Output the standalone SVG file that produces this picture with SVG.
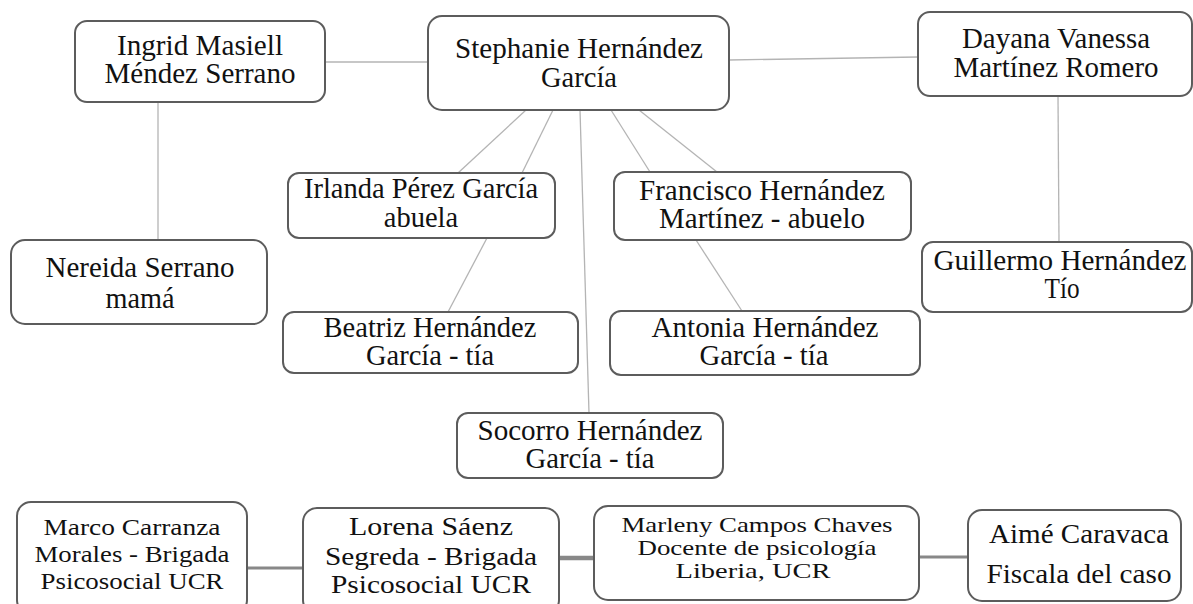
<svg xmlns="http://www.w3.org/2000/svg" width="1193" height="604" viewBox="0 0 1193 604">
<style>
.box{fill:#fff;stroke:#5c5c5c;stroke-width:2}
.t{font-family:"Liberation Serif","Times New Roman",serif;font-size:28.5px;fill:#111;text-anchor:middle}
.s{font-size:23.5px}
.m{font-size:25px}
.n{font-size:22px}
.l{stroke:#b4b4b4;stroke-width:1.3;fill:none}
.b{stroke:#888;stroke-width:3;fill:none}
</style>
<rect width="1193" height="604" fill="#fff"/>
<g id="connectors">
<line class="l" x1="325" y1="62" x2="428" y2="62"/>
<line class="l" x1="729" y1="60" x2="918" y2="57"/>
<line class="l" x1="158" y1="102" x2="158" y2="240"/>
<line class="l" x1="1058" y1="96" x2="1059" y2="242"/>
<line class="l" x1="526" y1="110" x2="458" y2="173"/>
<line class="l" x1="553" y1="110" x2="522" y2="173"/>
<line class="l" x1="580" y1="110" x2="589" y2="413"/>
<line class="l" x1="611" y1="110" x2="650" y2="172"/>
<line class="l" x1="639" y1="110" x2="717" y2="172"/>
<line class="l" x1="487" y1="238" x2="448" y2="312"/>
<line class="l" x1="696" y1="240" x2="742" y2="311"/>
<line class="b" x1="247" y1="568" x2="303" y2="568"/>
<line class="b" x1="559" y1="558" x2="594" y2="558" style="stroke-width:4.5"/>
<line class="b" x1="919" y1="557" x2="968" y2="557"/>
</g>
<g id="ingrid">
<rect class="box" x="75" y="21" width="250" height="81" rx="12"/>
<text class="t" x="200" y="55" textLength="166" lengthAdjust="spacingAndGlyphs">Ingrid Masiell</text>
<text class="t" x="200" y="83" textLength="191" lengthAdjust="spacingAndGlyphs">Méndez Serrano</text>
</g>
<g id="stephanie">
<rect class="box" x="428" y="16" width="301" height="94" rx="14"/>
<text class="t" x="579" y="58" textLength="248" lengthAdjust="spacingAndGlyphs">Stephanie Hernández</text>
<text class="t" x="579" y="87" textLength="76" lengthAdjust="spacingAndGlyphs">García</text>
</g>
<g id="dayana">
<rect class="box" x="918" y="12" width="274" height="84" rx="12"/>
<text class="t" x="1056" y="48" textLength="188" lengthAdjust="spacingAndGlyphs">Dayana Vanessa</text>
<text class="t" x="1056" y="77" textLength="205" lengthAdjust="spacingAndGlyphs">Martínez Romero</text>
</g>
<g id="nereida">
<rect class="box" x="11" y="240" width="256" height="84" rx="14"/>
<text class="t" x="140" y="277" textLength="189" lengthAdjust="spacingAndGlyphs">Nereida Serrano</text>
<text class="t" x="140" y="308" textLength="69" lengthAdjust="spacingAndGlyphs">mamá</text>
</g>
<g id="irlanda">
<rect class="box" x="288" y="173" width="267" height="65" rx="11"/>
<text class="t" x="421" y="198">Irlanda Pérez García</text>
<text class="t" x="421" y="227">abuela</text>
</g>
<g id="francisco">
<rect class="box" x="614" y="172" width="297" height="68" rx="11"/>
<text class="t" x="762" y="200" textLength="246" lengthAdjust="spacingAndGlyphs">Francisco Hernández</text>
<text class="t" x="762" y="228" textLength="206" lengthAdjust="spacingAndGlyphs">Martínez - abuelo</text>
</g>
<g id="guillermo">
<rect class="box" x="922" y="242" width="270" height="70" rx="11"/>
<text class="t" x="1060" y="270" textLength="253" lengthAdjust="spacingAndGlyphs">Guillermo Hernández</text>
<text class="t" x="1062" y="298" textLength="35" lengthAdjust="spacingAndGlyphs">Tío</text>
</g>
<g id="beatriz">
<rect class="box" x="283" y="312" width="295" height="61" rx="11"/>
<text class="t" x="430" y="337">Beatriz Hernández</text>
<text class="t" x="430" y="365">García - tía</text>
</g>
<g id="antonia">
<rect class="box" x="610" y="311" width="310" height="64" rx="11"/>
<text class="t" x="765" y="337" textLength="227" lengthAdjust="spacingAndGlyphs">Antonia Hernández</text>
<text class="t" x="764" y="365" textLength="129" lengthAdjust="spacingAndGlyphs">García - tía</text>
</g>
<g id="socorro">
<rect class="box" x="457" y="413" width="266" height="65" rx="11"/>
<text class="t" x="590" y="440" textLength="225" lengthAdjust="spacingAndGlyphs">Socorro Hernández</text>
<text class="t" x="590" y="468" textLength="129" lengthAdjust="spacingAndGlyphs">García - tía</text>
</g>
<g id="marco">
<rect class="box" x="17" y="502" width="230" height="112" rx="14"/>
<text class="t s" x="132" y="535" textLength="177" lengthAdjust="spacingAndGlyphs">Marco Carranza</text>
<text class="t s" x="132" y="562" textLength="195" lengthAdjust="spacingAndGlyphs">Morales - Brigada</text>
<text class="t s" x="132" y="589" textLength="183" lengthAdjust="spacingAndGlyphs">Psicosocial UCR</text>
</g>
<g id="lorena">
<rect class="box" x="303" y="508" width="256" height="106" rx="14"/>
<text class="t m" x="431" y="535" textLength="164" lengthAdjust="spacingAndGlyphs">Lorena Sáenz</text>
<text class="t m" x="431" y="565" textLength="212" lengthAdjust="spacingAndGlyphs">Segreda - Brigada</text>
<text class="t m" x="431" y="593" textLength="200" lengthAdjust="spacingAndGlyphs">Psicosocial UCR</text>
</g>
<g id="marleny">
<rect class="box" x="594" y="506" width="325" height="94" rx="14"/>
<text class="t n" x="757" y="532" textLength="271" lengthAdjust="spacingAndGlyphs">Marleny Campos Chaves</text>
<text class="t n" x="757" y="555" textLength="239" lengthAdjust="spacingAndGlyphs">Docente de psicología</text>
<text class="t n" x="753" y="578" textLength="155" lengthAdjust="spacingAndGlyphs">Liberia, UCR</text>
</g>
<g id="aime">
<rect class="box" x="968" y="510" width="213" height="91" rx="14"/>
<text class="t" x="1079" y="543" style="font-size:27.5px" textLength="180" lengthAdjust="spacingAndGlyphs">Aimé Caravaca</text>
<text class="t" x="1079" y="583" style="font-size:27.5px" textLength="185" lengthAdjust="spacingAndGlyphs">Fiscala del caso</text>
</g>
</svg>
